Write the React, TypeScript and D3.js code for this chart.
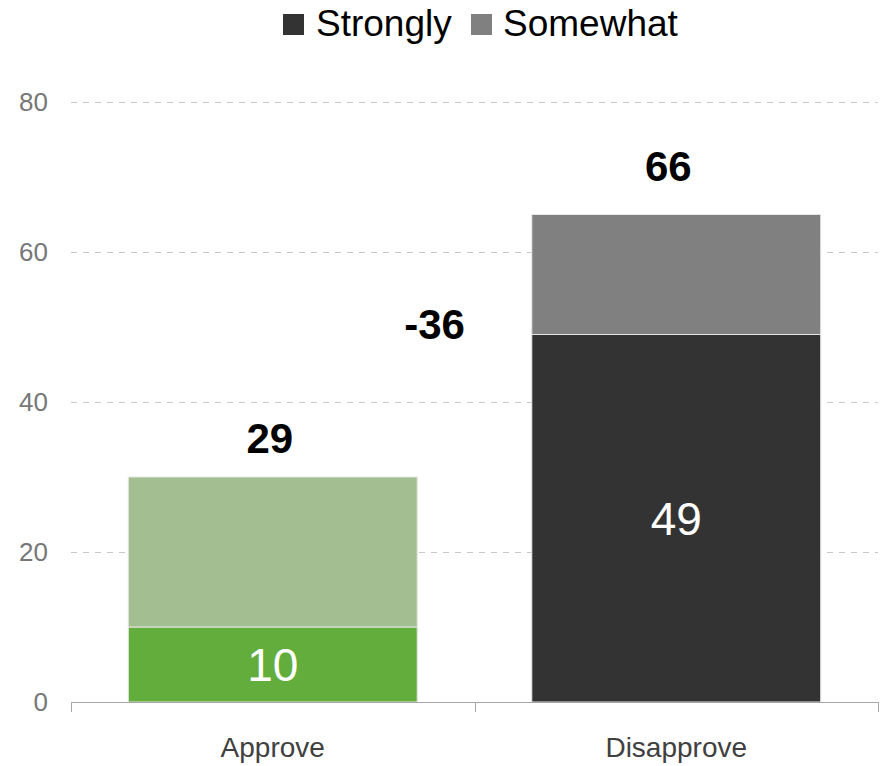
import React from "react";
import * as d3 from "d3";

const categories = ["Approve", "Disapprove"];
const strongly = [10, 49];
const somewhat = [20, 16];
const totalLabels = ["29", "66"];
const netLabel = "-36";
const yTicks = [0, 20, 40, 60, 80];
const stronglyColors = ["#62ad3b", "#333333"];
const somewhatColors = ["#a3bf92", "#808080"];
const legendItems = ["Strongly", "Somewhat"];
const legendColors = ["#333333", "#808080"];

const W = 888;
const H = 766;
const FONT = "'Liberation Sans', Arial, Helvetica, sans-serif";

export default function App() {
  const x = d3
    .scaleBand<string>()
    .domain(categories)
    .range([71, 878])
    .paddingInner(0.284)
    .paddingOuter(0.142);
  const y = d3.scaleLinear().domain([0, 80]).range([702, 102]);
  const bw = x.bandwidth();
  const totals = categories.map((_, i) => strongly[i] + somewhat[i]);
  const labelOffsets = [24, 34];
  const labelShift = [-3, -8];
  const boundary = (x(categories[1]) as number) - (x.step() * x.paddingInner()) / 2;

  return (
    <svg
      width={W}
      height={H}
      style={{ position: "absolute", left: 0, top: 0, background: "#fff" }}
      fontFamily={FONT}
    >
      {yTicks.filter((t) => t !== 0).map((t) => (
        <line
          key={"g" + t}
          x1={71}
          x2={878}
          y1={y(t) + 0.5}
          y2={y(t) + 0.5}
          stroke="#c8c8c8"
          strokeWidth={1}
          strokeDasharray="6,6"
        />
      ))}
      {yTicks.map((t) => (
        <text
          key={"t" + t}
          x={48}
          y={y(t)}
          dy="0.35em"
          textAnchor="end"
          fontSize={26}
          fill="#777777"
        >
          {t}
        </text>
      ))}
      {categories.map((c, i) => {
        const x0 = x(c) as number;
        return (
          <g key={c}>
            <rect
              x={x0}
              y={y(strongly[i])}
              width={bw}
              height={y(0) - y(strongly[i])}
              fill={stronglyColors[i]}
              stroke="#e6e6e6"
              strokeWidth={1}
            />
            <rect
              x={x0}
              y={y(totals[i])}
              width={bw}
              height={y(strongly[i]) - y(totals[i])}
              fill={somewhatColors[i]}
              stroke="#e6e6e6"
              strokeWidth={1}
            />
            <text
              x={x0 + bw / 2}
              y={(y(0) + y(strongly[i])) / 2}
              dy="0.36em"
              textAnchor="middle"
              fontSize={46}
              fill="#ffffff"
            >
              {strongly[i]}
            </text>
            <text
              x={x0 + bw / 2 + labelShift[i]}
              y={y(totals[i]) - labelOffsets[i]}
              textAnchor="middle"
              fontSize={42}
              fontWeight="bold"
              fill="#000"
            >
              {totalLabels[i]}
            </text>
            <text
              x={x0 + bw / 2}
              y={757}
              textAnchor="middle"
              fontSize={28}
              fill="#404040"
            >
              {c}
            </text>
          </g>
        );
      })}
      <text
        x={boundary - 40}
        y={y((totals[0] + totals[1]) / 2) - 7}
        textAnchor="middle"
        fontSize={42}
        fontWeight="bold"
        fill="#000"
      >
        {netLabel}
      </text>
      <line x1={71} x2={878} y1={702.5} y2={702.5} stroke="#a6a6a6" strokeWidth={1} />
      {[71, boundary, 878].map((px, i) => (
        <line
          key={"xt" + i}
          x1={Math.round(px) + 0.5}
          x2={Math.round(px) + 0.5}
          y1={702}
          y2={712}
          stroke="#a6a6a6"
          strokeWidth={1}
        />
      ))}
      <g>
        <rect x={283} y={14} width={21} height={21} fill={legendColors[0]} />
        <text x={316} y={36} fontSize={37} fill="#000">
          {legendItems[0]}
        </text>
        <rect x={471} y={14} width={21} height={21} fill={legendColors[1]} />
        <text x={503} y={36} fontSize={37} fill="#000">
          {legendItems[1]}
        </text>
      </g>
    </svg>
  );
}
